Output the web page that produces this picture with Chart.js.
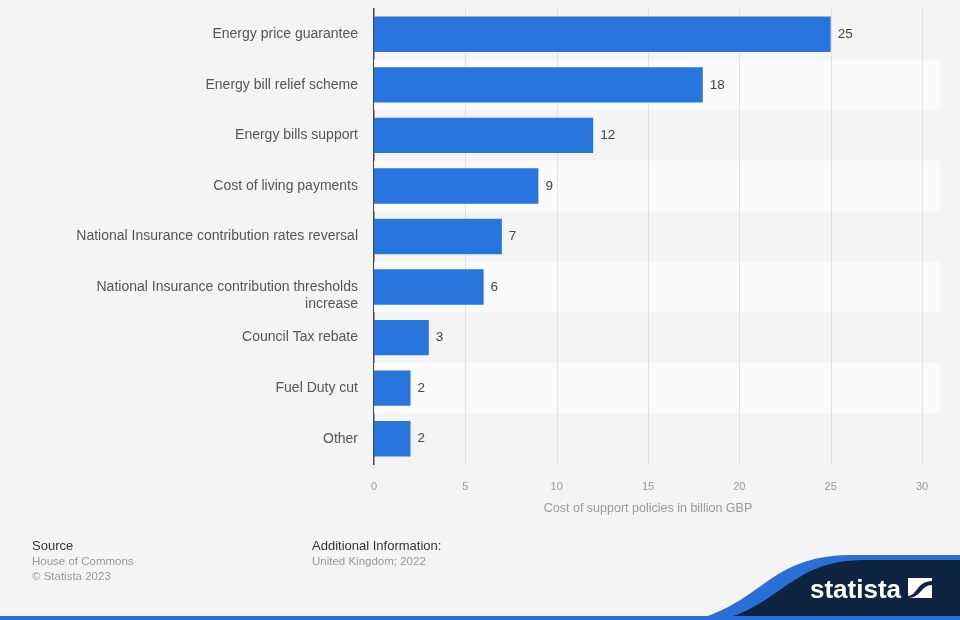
<!DOCTYPE html>
<html>
<head>
<meta charset="utf-8">
<script src="https://cdn.jsdelivr.net/npm/chart.js@4/dist/chart.umd.min.js"></script>
<style>
  body { margin: 0; background: #f4f4f4; font-family: "Liberation Sans", Arial, sans-serif; }
  #wrap { position: relative; width: 960px; height: 620px; overflow: hidden; }
  #chart { position: absolute; left: 0; top: 0; }
  .foot { position: absolute; font-size: 11.5px; color: #999; line-height: 15px; }
  .foot b { display: block; font-weight: normal; color: #333; font-size: 13px; margin-bottom: 1px; }
  #wave { position: absolute; left: 0; top: 0; }
</style>
</head>
<body>
<div id="wrap">
  <canvas id="chart" width="960" height="620"></canvas>
  <div class="foot" style="left:32px; top:538px;"><b>Source</b>House of Commons<br>© Statista 2023</div>
  <div class="foot" style="left:312px; top:538px;"><b>Additional Information:</b>United Kingdom; 2022</div>
  <svg id="wave" width="960" height="620">
    <path d="M695,620 C765,600 770,556 850,555 L960,555 L960,620 Z" fill="#2a6fd6"/>
    <path d="M720,620 C782,604 792,561 862,560 L960,560 L960,620 Z" fill="#0e2440"/>
    <rect x="0" y="616" width="960" height="4" fill="#2a6fd6"/>
    <text x="810" y="598" fill="#fff" font-family="Liberation Sans, Arial, sans-serif" font-weight="bold" font-size="26">statista</text>
    <rect x="908" y="578" width="24" height="20" fill="#fff"/>
    <path d="M908,596 C917,596 917,581 932,581 L932,585 C921,585 921,598 908,598 Z" fill="#0e2440"/>
  </svg>
</div>
<script>
// Données du graphique
const categories = [
  'Energy price guarantee',
  'Energy bill relief scheme',
  'Energy bills support',
  'Cost of living payments',
  'National Insurance contribution rates reversal',
  ['', 'National Insurance contribution thresholds', 'increase'],
  'Council Tax rebate',
  'Fuel Duty cut',
  'Other'
];
const costs = [25, 18, 12, 9, 7, 6, 3, 2, 2];
const xTicks = [0, 5, 10, 15, 20, 25, 30];
const axisTitle = 'Cost of support policies in billion GBP';

// Bandes alternées derrière les barres
const rowBands = {
  id: 'rowBands',
  beforeDatasetsDraw(chart) {
    const { ctx, chartArea, scales } = chart;
    const y = scales.y;
    ctx.save();
    ctx.fillStyle = '#fafafa';
    for (let i = 1; i < categories.length; i += 2) {
      const top = y.getPixelForValue(i - 0.5);
      const bottom = y.getPixelForValue(i + 0.5);
      ctx.fillRect(chartArea.left, top, chartArea.right - chartArea.left + 18, bottom - top);
    }
    // grille verticale par-dessus les bandes
    ctx.strokeStyle = '#e2e2e2';
    ctx.lineWidth = 1;
    xTicks.slice(1).forEach(v => {
      const x = Math.round(scales.x.getPixelForValue(v)) + 0.5;
      ctx.beginPath();
      ctx.moveTo(x, chartArea.top);
      ctx.lineTo(x, chartArea.bottom);
      ctx.stroke();
    });
    ctx.restore();
  }
};

// Valeurs au bout des barres
const valueLabels = {
  id: 'valueLabels',
  afterDatasetsDraw(chart) {
    const { ctx } = chart;
    const meta = chart.getDatasetMeta(0);
    ctx.save();
    ctx.fillStyle = '#444';
    ctx.font = '13.5px "Liberation Sans", Arial, sans-serif';
    ctx.textBaseline = 'middle';
    meta.data.forEach((bar, i) => {
      ctx.fillText(costs[i], bar.x + 7, bar.y);
    });
    ctx.restore();
  }
};

const ctx = document.getElementById('chart').getContext('2d');
new Chart(ctx, {
  type: 'bar',
  data: {
    labels: categories,
    datasets: [{
      data: costs,
      backgroundColor: '#2876dd',
      barPercentage: 0.7,
      categoryPercentage: 1
    }]
  },
  options: {
    indexAxis: 'y',
    responsive: false,
    animation: false,
    devicePixelRatio: 1,
    layout: { padding: { top: 9, right: 38, bottom: 100, left: 0 } },
    plugins: { legend: { display: false }, tooltip: { enabled: false } },
    scales: {
      x: {
        min: 0,
        max: 30,
        afterBuildTicks(axis) { axis.ticks = xTicks.map(v => ({ value: v })); },
        afterFit(axis) { axis.height = 56; axis.paddingLeft = 0; axis.paddingRight = 0; },
        grid: { display: false },
        border: { display: false },
        ticks: { color: '#999', font: { family: 'Liberation Sans', size: 11 }, padding: 8 },
        title: {
          display: true,
          text: axisTitle,
          color: '#999',
          font: { family: 'Liberation Sans', size: 12.5 },
          padding: { top: 4, bottom: 4 }
        }
      },
      y: {
        z: 1,
        afterFit(axis) { axis.width = 374; axis.paddingTop = 0; axis.paddingBottom = 0; },
        grid: { display: false, drawTicks: false },
        border: { display: true, color: '#444', width: 1.5 },
        ticks: {
          autoSkip: false,
          color: '#555',
          font: { family: 'Liberation Sans', size: 14, lineHeight: 1.2 },
          padding: 16
        }
      }
    }
  },
  plugins: [rowBands, valueLabels]
});
</script>
</body>
</html>
